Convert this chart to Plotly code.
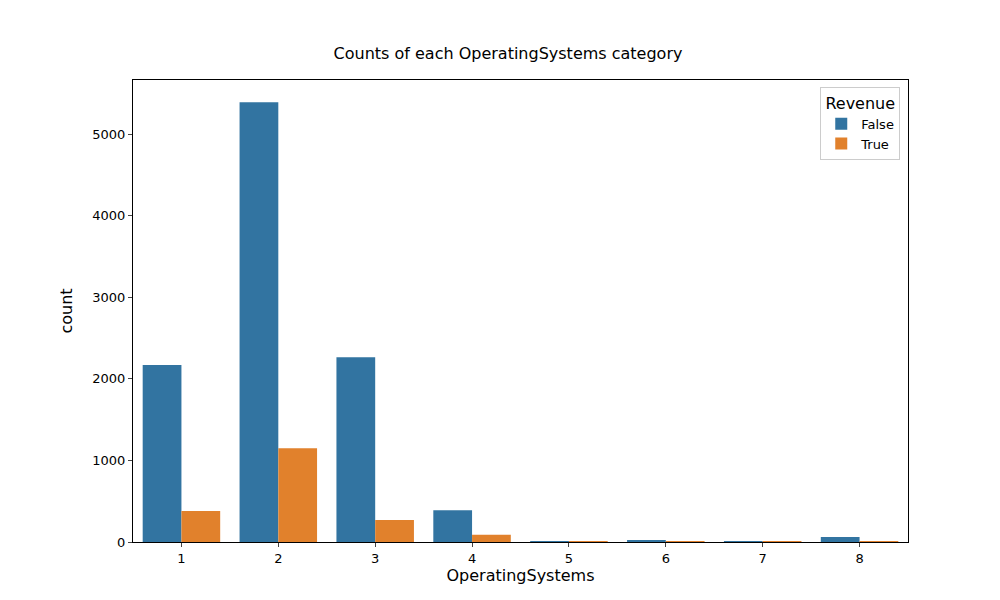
import plotly.graph_objects as go

categories = ["1", "2", "3", "4", "5", "6", "7", "8"]
false_counts = [2170, 5390, 2265, 390, 5, 17, 6, 62]
true_counts = [380, 1150, 270, 90, 1, 2, 1, 12]

fig = go.Figure()
fig.add_bar(x=categories, y=false_counts, name="False", marker_color="#3274a1", marker_line_width=0)
fig.add_bar(x=categories, y=true_counts, name="True", marker_color="#e1812c", marker_line_width=0)

fig.update_layout(
    width=1000, height=600, barmode="group", bargap=0.2, bargroupgap=0,
    plot_bgcolor="white", paper_bgcolor="white",
    font=dict(family="DejaVu Sans", size=13, color="black"),
    margin=dict(l=125, r=100, t=72, b=66),
    title=dict(text="Counts of each OperatingSystems category", x=0.5, xanchor="center", y=0.915, yanchor="bottom", font=dict(size=16)),
    legend=dict(title=dict(text="Revenue", side="top center"), x=0.99, y=0.985, xanchor="right", yanchor="top",
                bordercolor="#cccccc", borderwidth=1, bgcolor="white"),
    xaxis=dict(title=dict(text="OperatingSystems", standoff=5), type="category", showline=True, linecolor="black", mirror=True,
               ticks="outside", ticklen=4, showgrid=False),
    yaxis=dict(title=dict(text="count"), range=[0, 5662], showline=True, linecolor="black", mirror=True,
               ticks="outside", ticklen=4, showgrid=False, zeroline=False, tickvals=[0, 1000, 2000, 3000, 4000, 5000]),
)
fig.write_html("out.html")
